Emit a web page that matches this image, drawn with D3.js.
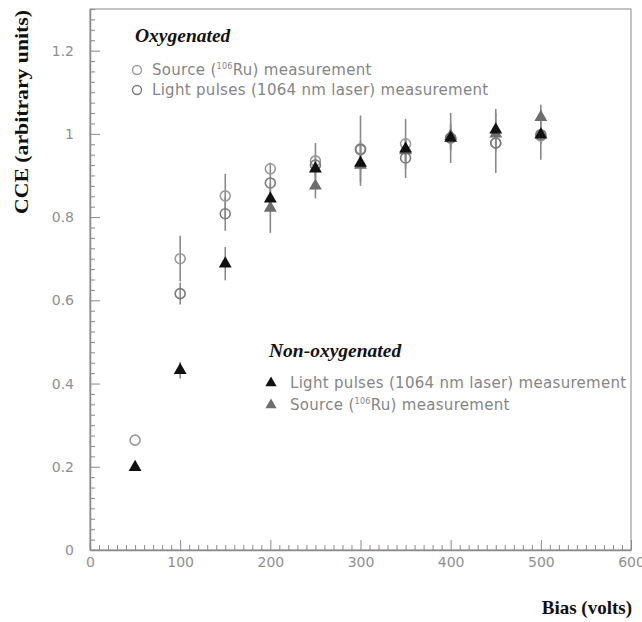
<!DOCTYPE html>
<html>
<head>
<meta charset="utf-8">
<script src="https://cdn.jsdelivr.net/npm/d3@7"></script>
<style>
  html, body { margin: 0; padding: 0; background: #fff; }
  svg { display: block; }
</style>
</head>
<body>
<svg id="chart" width="642" height="622"></svg>
<script>
// Bias voltages (volts)
const bias = [50, 100, 150, 200, 250, 300, 350, 400, 450, 500];

// Oxygenated detector: source (106Ru) measurement
const oxySource    = [0.264, 0.700, 0.851, 0.916, 0.935, 0.964, 0.976, 0.990, 0.978, 0.995];
const oxySourceErr = [0.000, 0.055, 0.053, 0.015, 0.043, 0.080, 0.060, 0.060, 0.020, 0.020];
// Oxygenated detector: light pulses (1064 nm laser) measurement
const oxyLaser     = [null, 0.616, 0.808, 0.882, 0.925, 0.962, 0.942, 0.990, 0.978, 0.998];
const oxyLaserErr  = [0.000, 0.026, 0.041, 0.020, 0.020, 0.020, 0.048, 0.030, 0.072, 0.060];

// Non-oxygenated detector: light pulses (1064 nm laser) measurement
const nonLaser     = [0.199, 0.432, 0.688, 0.844, 0.916, 0.930, 0.964, 0.990, 1.010, 0.998];
const nonLaserErr  = [0.000, 0.020, 0.040, 0.020, 0.020, 0.020, 0.020, 0.020, 0.050, 0.020];
// Non-oxygenated detector: source (106Ru) measurement
const nonSource    = [null, null, null, 0.822, 0.875, 0.925, 0.960, 0.995, 1.000, 1.040];
const nonSourceErr = [0.000, 0.000, 0.000, 0.060, 0.030, 0.050, 0.030, 0.030, 0.030, 0.030];

// Axis ticks
const xTicks = [0, 100, 200, 300, 400, 500, 600];
const yTicks = [0, 0.2, 0.4, 0.6, 0.8, 1, 1.2];
const yTickLabels = ["0", "0.2", "0.4", "0.6", "0.8", "1", "1.2"];

const svg = d3.select("#chart");
const plotL = 90, plotR = 631, plotT = 9, plotB = 550;

const x = d3.scaleLinear().domain([0, 600]).range([plotL, plotR]);
const y = d3.scaleLinear().domain([0, 1.3]).range([plotB, plotT]);

const axisColor = "#8a8a8a";
const labelColor = "#8f8f8f";
const font = "'DejaVu Sans', sans-serif";
const serif = "'Liberation Serif', 'Times New Roman', serif";

// Plot frame
svg.append("rect")
  .attr("x", plotL).attr("y", plotT)
  .attr("width", plotR - plotL).attr("height", plotB - plotT)
  .attr("fill", "none").attr("stroke", axisColor).attr("stroke-width", 1);

// Minor ticks
const xMinor = d3.range(0, 601, 10).filter(v => v % 100 !== 0);
const yMinor = d3.range(0, 1.3001, 0.025).filter(v => Math.abs(v / 0.2 - Math.round(v / 0.2)) > 1e-6);

svg.append("g")
  .attr("transform", `translate(0,${plotB})`)
  .call(d3.axisBottom(x).tickValues(xMinor).tickSize(-5).tickFormat(""))
  .call(g => g.select(".domain").remove())
  .call(g => g.selectAll("line").attr("stroke", axisColor));

svg.append("g")
  .attr("transform", `translate(${plotL},0)`)
  .call(d3.axisLeft(y).tickValues(yMinor).tickSize(-5).tickFormat(""))
  .call(g => g.select(".domain").remove())
  .call(g => g.selectAll("line").attr("stroke", axisColor));

// Major ticks and labels
svg.append("g")
  .attr("transform", `translate(0,${plotB})`)
  .call(d3.axisBottom(x).tickValues(xTicks).tickSizeInner(-10).tickSizeOuter(0).tickPadding(7))
  .call(g => g.select(".domain").attr("stroke", axisColor).attr("stroke-width", 1.5))
  .call(g => g.selectAll("line").attr("stroke", axisColor))
  .call(g => g.selectAll("text").attr("fill", labelColor).style("font-family", font).style("font-size", "14px"));

svg.append("g")
  .attr("transform", `translate(${plotL},0)`)
  .call(d3.axisLeft(y).tickValues(yTicks).tickFormat((d, i) => yTickLabels[i])
        .tickSizeInner(-10).tickSizeOuter(0).tickPadding(16))
  .call(g => g.select(".domain").attr("stroke", axisColor).attr("stroke-width", 1.5))
  .call(g => g.selectAll("line").attr("stroke", axisColor))
  .call(g => g.selectAll("text").attr("fill", labelColor).style("font-family", font).style("font-size", "14px"));

// Build series records
function series(vals, errs) {
  return bias.map((b, i) => ({ b, v: vals[i], e: errs[i] })).filter(d => d.v !== null);
}
const sets = [
  { data: series(oxySource, oxySourceErr), shape: "circle", color: "#9a9a9a" },
  { data: series(oxyLaser, oxyLaserErr), shape: "circle", color: "#7a7a7a" },
  { data: series(nonSource, nonSourceErr), shape: "triangle", color: "#6e6e6e" },
  { data: series(nonLaser, nonLaserErr), shape: "triangle", color: "#111111" }
];

// Error bars
sets.forEach(s => {
  svg.append("g").selectAll("line")
    .data(s.data.filter(d => d.e > 0))
    .join("line")
    .attr("x1", d => x(d.b)).attr("x2", d => x(d.b))
    .attr("y1", d => y(d.v - d.e)).attr("y2", d => y(d.v + d.e))
    .attr("stroke", "#8a8a8a").attr("stroke-width", 1.6);
});

const triangle = d3.symbol().type(d3.symbolTriangle).size(72);

function drawMarkers(g, s) {
  if (s.shape === "circle") {
    g.selectAll("circle").data(s.data).join("circle")
      .attr("cx", d => x(d.b)).attr("cy", d => y(d.v)).attr("r", 5)
      .attr("fill", "none").attr("stroke", s.color).attr("stroke-width", 1.6);
  } else {
    g.selectAll("path").data(s.data).join("path")
      .attr("d", triangle)
      .attr("transform", d => `translate(${x(d.b)},${y(d.v)})`)
      .attr("fill", s.color);
  }
}
sets.forEach(s => drawMarkers(svg.append("g"), s));

// Legends
function legendBlock(title, tx, ty, mx, textX, firstDy, gap, entries) {
  svg.append("text")
    .attr("x", tx).attr("y", ty)
    .style("font-family", serif)
    .style("font-weight", "bold").style("font-style", "italic")
    .style("font-size", "19.5px").attr("fill", "#111")
    .text(title);
  entries.forEach((e, i) => {
    const ey = ty + firstDy + i * gap;
    const mk = svg.append("g");
    if (e.shape === "circle") {
      mk.append("circle").attr("cx", mx).attr("cy", ey - 5).attr("r", 4.5)
        .attr("fill", "none").attr("stroke", e.color).attr("stroke-width", 1.4);
    } else {
      mk.append("path").attr("d", d3.symbol().type(d3.symbolTriangle).size(55))
        .attr("transform", `translate(${mx},${ey - 5})`).attr("fill", e.color);
    }
    const t = svg.append("text")
      .attr("x", textX).attr("y", ey)
      .style("font-family", font).style("font-size", "15px")
      .style("letter-spacing", "0.3px").attr("fill", "#858585");
    let shift = 0;
    e.parts.forEach(p => {
      if (p.sup) {
        t.append("tspan").attr("dy", -6).style("font-size", "8px").text(p.sup);
        shift = 6;
      } else {
        t.append("tspan").attr("dy", shift).text(p.t);
        shift = 0;
      }
    });
  });
}

legendBlock("Oxygenated", 135, 42, 137, 152, 33, 20, [
  { shape: "circle", color: "#9a9a9a", parts: [{ t: "Source (" }, { sup: "106" }, { t: "Ru) measurement" }] },
  { shape: "circle", color: "#7a7a7a", parts: [{ t: "Light pulses (1064 nm laser) measurement" }] }
]);

legendBlock("Non-oxygenated", 269, 357, 271, 290, 31, 22, [
  { shape: "triangle", color: "#111111", parts: [{ t: "Light pulses (1064 nm laser) measurement" }] },
  { shape: "triangle", color: "#6e6e6e", parts: [{ t: "Source (" }, { sup: "106" }, { t: "Ru) measurement" }] }
]);

// Axis titles
svg.append("text")
  .attr("transform", "translate(28,112) rotate(-90)")
  .attr("text-anchor", "middle")
  .attr("textLength", 204).attr("lengthAdjust", "spacingAndGlyphs")
  .style("font-family", serif)
  .style("font-weight", "bold").style("font-size", "19px").attr("fill", "#111")
  .text("CCE (arbitrary units)");

svg.append("text")
  .attr("x", 632).attr("y", 614)
  .attr("text-anchor", "end")
  .style("font-family", serif)
  .style("font-weight", "bold").style("font-size", "19px").attr("fill", "#111")
  .text("Bias (volts)");
</script>
</body>
</html>
